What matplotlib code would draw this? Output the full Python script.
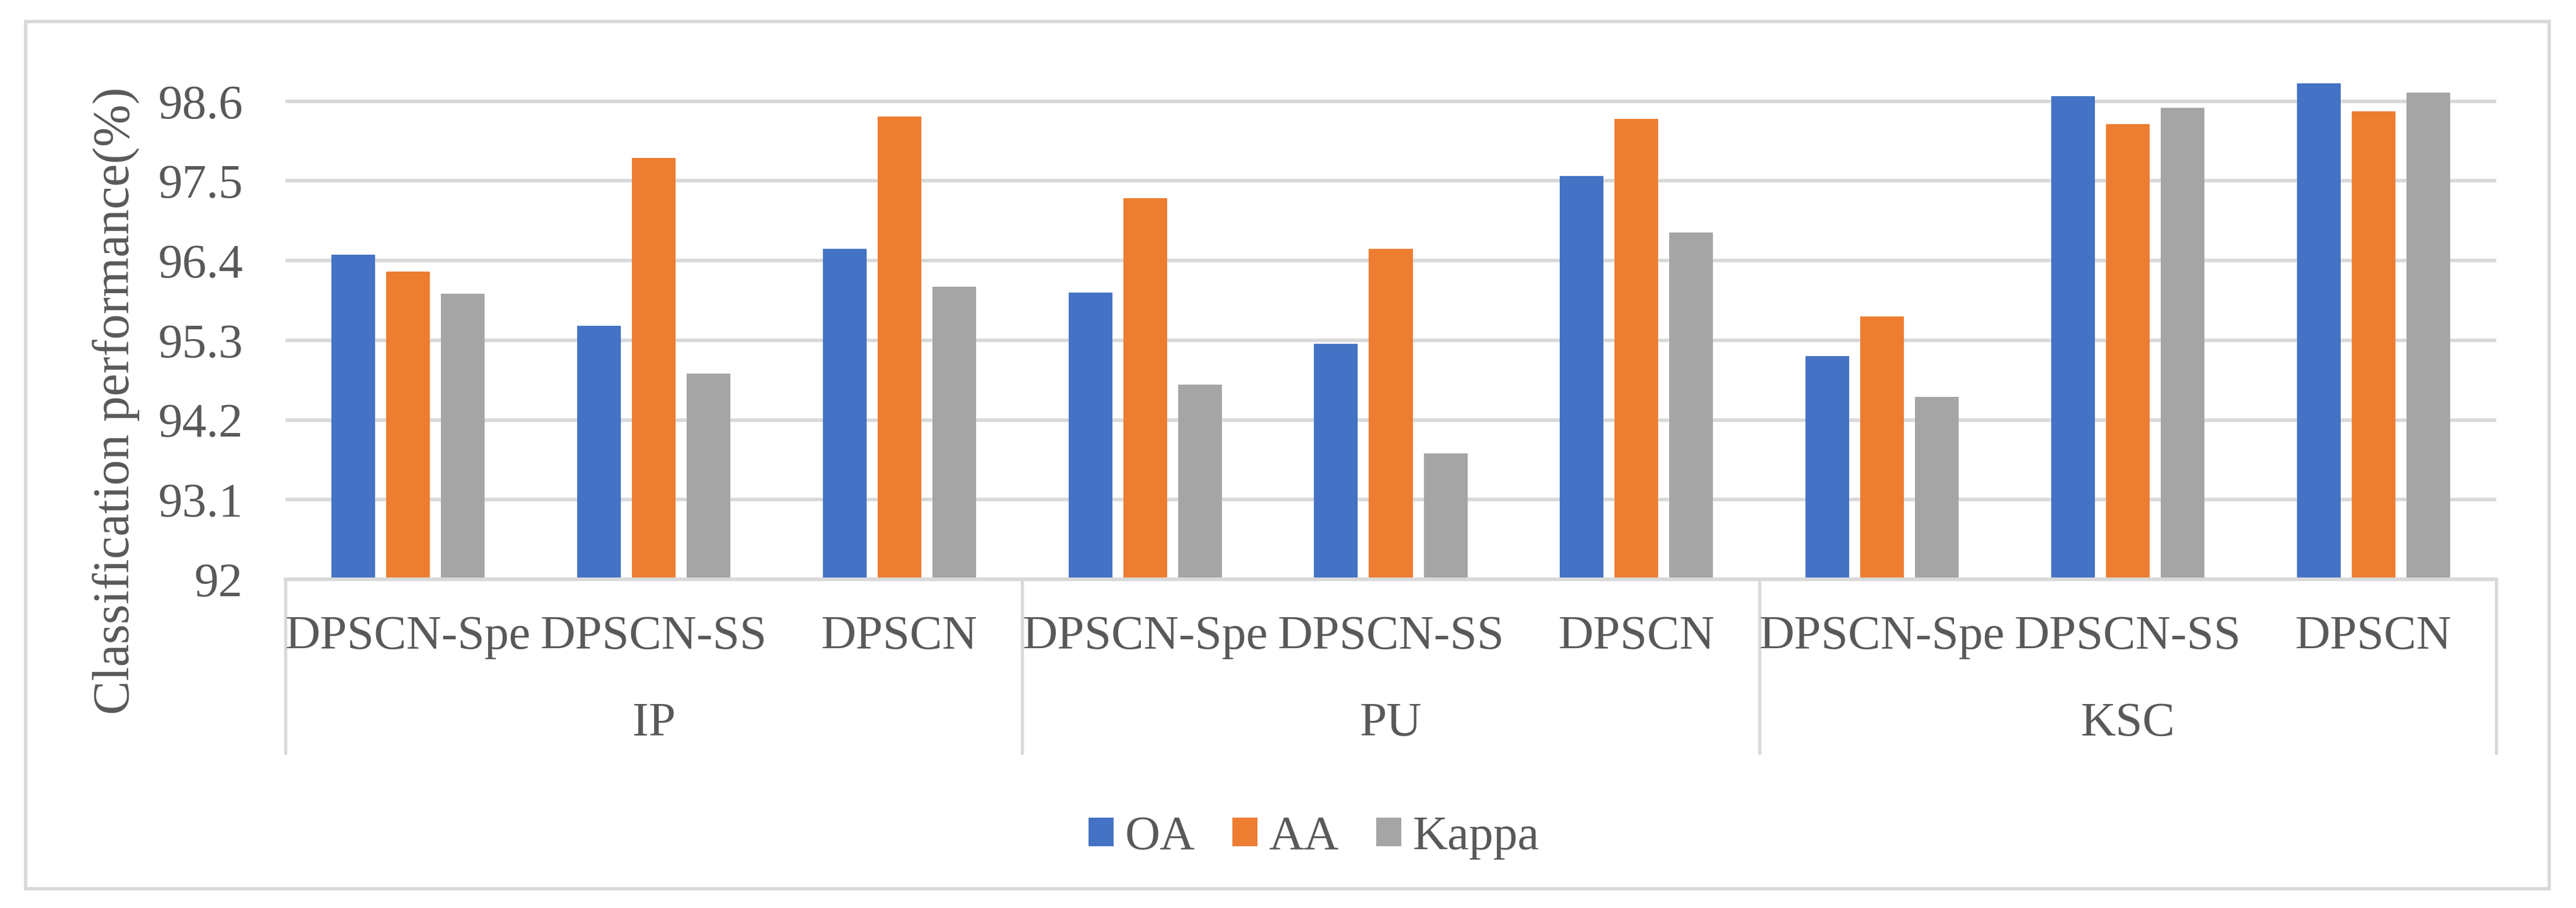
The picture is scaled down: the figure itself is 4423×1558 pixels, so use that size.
import numpy as np
import matplotlib
matplotlib.use('Agg')
import matplotlib.pyplot as plt
from matplotlib.patches import Rectangle
import matplotlib.transforms as mtransforms

# values
groups = ['IP', 'PU', 'KSC']
methods = ['DPSCN-Spe', 'DPSCN-SS', 'DPSCN']
oa = [96.48, 95.50, 96.56, 95.96, 95.25, 97.57, 95.08, 98.67, 98.85]
aa = [96.25, 97.82, 98.39, 97.26, 96.56, 98.36, 95.63, 98.28, 98.46]
kappa = [95.94, 94.84, 96.04, 94.69, 93.74, 96.79, 94.52, 98.51, 98.72]
yticks = [92, 93.1, 94.2, 95.3, 96.4, 97.5, 98.6]
ytick_labels = ['92', '93.1', '94.2', '95.3', '96.4', '97.5', '98.6']

series = [('OA', oa, '#4472C4'), ('AA', aa, '#ED7D31'), ('Kappa', kappa, '#A5A5A5')]

plt.rcParams['font.family'] = ['Liberation Serif', 'DejaVu Serif']
txt = '#595959'
line_c = '#D9D9D9'
fs = 20

W, H = 4423, 1558
fig = plt.figure(figsize=(W / 300, H / 300), dpi=300)

# outer chart frame
fig.patches.append(Rectangle((44 / W, 1 - 1525 / H), (4377 - 44) / W, (1525 - 37) / H,
                             transform=fig.transFigure, fill=False,
                             edgecolor=line_c, lw=1.4))

ax = fig.add_axes([490 / W, 1 - 994 / H, (4286 - 490) / W, (994 - 124) / H])

n = len(oa)
x = np.arange(n) + 0.5
width = 0.178
step = 0.223
for i, (name, vals, col) in enumerate(series):
    ax.bar(x + (i - 1) * step, vals, width, color=col, label=name, zorder=3)

ax.set_xlim(0, n)
ax.set_ylim(92, 99.0)
ax.set_yticks(yticks)
ax.set_yticklabels(ytick_labels)
ax.tick_params(axis='y', length=0, pad=17.5, labelsize=fs, labelcolor=txt)
ax.set_xticks([])
ax.yaxis.grid(True, color=line_c, lw=1.5, zorder=0)
for s in ['top', 'right', 'left']:
    ax.spines[s].set_visible(False)
ax.spines['bottom'].set_color(line_c)
ax.spines['bottom'].set_linewidth(1.5)
ax.spines['bottom'].set_zorder(4)

trans = mtransforms.blended_transform_factory(ax.transData, ax.transAxes)
for k in range(n):
    ax.text(x[k], -0.1138, methods[k % 3], transform=trans, ha='center', va='center',
            fontsize=fs, color=txt)
for g, gname in enumerate(groups):
    ax.text(g * 3 + 1.5, -0.285, gname, transform=trans, ha='center', va='center',
            fontsize=fs, color=txt)
for b in [0, 3, 6, 9]:
    ax.plot([b, b], [0, -0.3425], transform=trans, color=line_c, lw=1.3, clip_on=False)

fig.text(199 / W, 1 - 688 / H, 'Classification performance(%)', rotation=90,
         ha='center', va='center', fontsize=21, color=txt)

handles, labels = ax.get_legend_handles_labels()
leg = fig.legend(handles, labels, loc='center', bbox_to_anchor=(2256 / W, 1 - 1437 / H),
                 ncol=3, frameon=False, fontsize=fs, handlelength=0.52, handleheight=0.52,
                 handletextpad=0.23, columnspacing=0.77)
for t in leg.get_texts():
    t.set_color(txt)

fig.savefig('out.png', dpi=300)
